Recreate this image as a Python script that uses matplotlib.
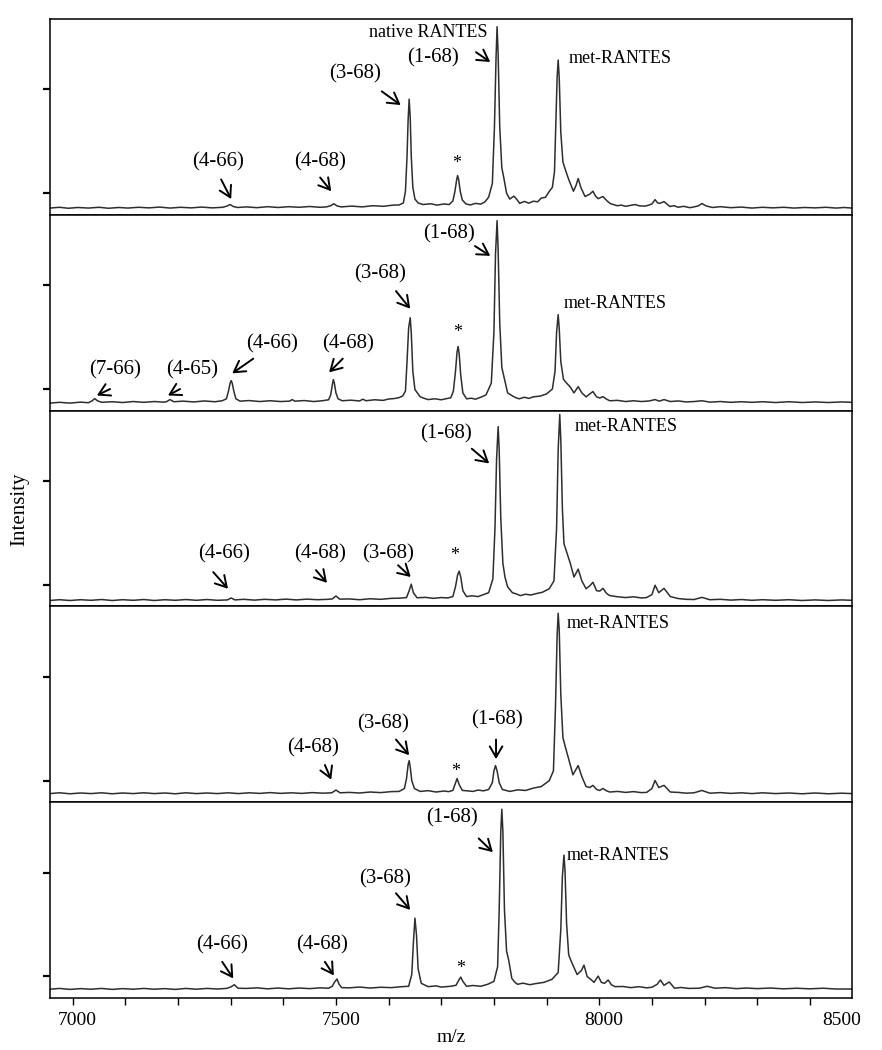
import matplotlib
matplotlib.use('Agg')
import matplotlib.pyplot as plt
import matplotlib.transforms as mtrans
from matplotlib.ticker import MultipleLocator

plt.rcParams['font.family'] = ['Liberation Serif', 'DejaVu Serif']

# traced spectra: m/z and relative intensity (percent of panel height)
mz_a = [6957, 6975, 6992, 7010, 7030, 7050, 7068, 7088, 7105, 7125, 7145, 7165, 7185, 7205, 7225,
        7245, 7265, 7285, 7293, 7299, 7305, 7313, 7330, 7350, 7370, 7390, 7410, 7430, 7450, 7470,
        7482, 7490, 7496, 7502, 7510, 7530, 7550, 7570, 7590, 7608, 7620, 7628, 7632, 7635, 7637,
        7639, 7641, 7643, 7646, 7650, 7656, 7665, 7680, 7692, 7705, 7715, 7722, 7726, 7729, 7731,
        7733, 7736, 7740, 7747, 7755, 7765, 7775, 7783, 7790, 7797, 7801, 7804, 7806, 7808, 7811,
        7815, 7819, 7824, 7830, 7838, 7843, 7849, 7858, 7866, 7875, 7883, 7890, 7898, 7904, 7911,
        7915, 7918, 7920, 7922, 7924, 7927, 7931, 7935, 7942, 7951, 7956, 7960, 7965, 7973, 7982,
        7988, 7993, 7998, 8007, 8015, 8021, 8034, 8042, 8050, 8060, 8068, 8077, 8087, 8094, 8100,
        8106, 8111, 8115, 8123, 8134, 8142, 8150, 8160, 8172, 8180, 8188, 8195, 8203, 8215, 8230,
        8250, 8270, 8290, 8310, 8330, 8350, 8370, 8390, 8410, 8430, 8450, 8465, 8480]
int_a = [3.4, 3.8, 3.3, 3.7, 3.4, 3.8, 3.3, 3.7, 3.4, 3.8, 3.5, 3.9, 3.4, 3.8, 3.5,
         3.9, 3.5, 3.8, 4.4, 5.2, 4.2, 3.7, 4.0, 3.6, 4.1, 3.7, 4.1, 3.8, 4.2, 3.8,
         4.0, 4.6, 5.6, 4.5, 4.0, 4.4, 4.0, 4.6, 4.3, 4.9, 5.0, 6.0, 12, 30, 48,
         59, 50, 30, 14, 8, 6, 5.2, 5.6, 4.9, 5.5, 5.2, 7, 12, 17.5, 20,
         18, 12, 7.5, 5.5, 5.0, 5.8, 5.4, 6.6, 9, 16, 45, 80, 96, 82, 45,
         24, 18.5, 11, 8, 9.5, 8, 5.8, 6.8, 5.9, 6.9, 6.6, 8.5, 8.9, 11.5, 14,
         22, 50, 70, 79, 70, 42, 27, 23.5, 18, 12, 15, 18.5, 14, 9.3, 10.5,
         12, 9.5, 8.2, 9.3, 7, 5.7, 4.6, 4.9, 4.3, 4.8, 5.2, 4.5, 4.4, 4.9, 5.5,
         7.7, 6.0, 5.8, 6.7, 4.2, 4.6, 3.8, 4.3, 3.6, 4.0, 4.5, 5.7, 4.5, 3.7, 4.1,
         3.6, 3.9, 3.4, 3.8, 3.5, 3.8, 3.4, 3.7, 3.5, 3.8, 3.4, 3.7, 3.4]

mz_b = [6957, 6975, 6995, 7015, 7030, 7037, 7042, 7047, 7055, 7075, 7095, 7115, 7135, 7155, 7172,
        7178, 7185, 7192, 7210, 7230, 7250, 7270, 7284, 7292, 7296, 7299, 7301, 7303, 7306, 7310,
        7318, 7335, 7355, 7375, 7395, 7412, 7417, 7422, 7440, 7458, 7474, 7486, 7490, 7493, 7495,
        7497, 7500, 7504, 7512, 7528, 7545, 7551, 7557, 7573, 7590, 7600, 7610, 7620, 7627, 7632,
        7635, 7638, 7641, 7643, 7646, 7650, 7660, 7668, 7675, 7688, 7700, 7710, 7718, 7723, 7727,
        7730, 7732, 7734, 7737, 7741, 7748, 7757, 7765, 7775, 7785, 7795, 7800, 7803, 7806, 7808,
        7811, 7815, 7821, 7826, 7835, 7842, 7848, 7858, 7866, 7875, 7888, 7900, 7911, 7916, 7919,
        7922, 7924, 7927, 7932, 7938, 7945, 7952, 7960, 7967, 7975, 7982, 7988, 7995, 8001, 8007,
        8014, 8020, 8035, 8050, 8065, 8080, 8095, 8106, 8114, 8123, 8135, 8150, 8165, 8180, 8195,
        8210, 8230, 8250, 8270, 8290, 8310, 8335, 8360, 8385, 8410, 8435, 8460, 8480]
int_b = [3.8, 4.2, 3.8, 4.3, 4.0, 5.0, 6.1, 5.0, 4.2, 4.5, 4.1, 4.6, 4.2, 4.6, 4.3,
         4.5, 5.6, 4.5, 4.8, 4.4, 4.9, 4.5, 5.0, 6, 10, 14, 15.3, 14, 10, 6,
         4.8, 5.1, 4.6, 5.0, 4.6, 4.8, 5.6, 4.8, 5.1, 4.6, 5.0, 5.5, 8, 13, 15.8,
         14, 9, 6, 5, 5.3, 4.9, 5.8, 5, 5.5, 5.2, 5.9, 6.1, 6.6, 7.5, 10,
         25, 42, 47.4, 40, 20, 10.7, 7, 6.2, 5.6, 6.0, 5.5, 6.1, 6.5, 10, 20,
         30, 32.7, 29, 18, 9, 6, 6.3, 5.8, 6.8, 8, 14, 40, 80, 97, 82,
         45, 22, 14.8, 9, 7.5, 6.5, 6, 6.8, 6.2, 7.0, 7.4, 8.5, 11, 20, 40,
         49, 42, 25, 16, 14, 12, 9, 12.2, 9, 7, 8.5, 9.7, 7, 6.4, 7.1,
         5.8, 5, 5.2, 4.6, 5.0, 4.6, 4.9, 5.6, 4.8, 5.6, 4.6, 4.9, 4.4, 4.6, 5.0,
         4.3, 4.6, 4.2, 4.5, 4.2, 4.5, 4.1, 4.5, 4.1, 4.4, 4.1, 4.4, 4.2]

mz_c = [6957, 6975, 6995, 7015, 7035, 7055, 7075, 7095, 7115, 7135, 7155, 7175, 7195, 7215, 7235,
        7255, 7275, 7294, 7301, 7308, 7325, 7345, 7365, 7385, 7405, 7425, 7445, 7465, 7485, 7493,
        7500, 7507, 7525, 7545, 7565, 7585, 7605, 7622, 7634, 7639, 7643, 7647, 7654, 7670, 7685,
        7700, 7712, 7722, 7727, 7731, 7734, 7737, 7741, 7748, 7758, 7770, 7780, 7790, 7798, 7802,
        7805, 7808, 7810, 7813, 7817, 7821, 7826, 7835, 7843, 7850, 7860, 7870, 7880, 7892, 7905,
        7914, 7919, 7922, 7925, 7927, 7930, 7933, 7937, 7945, 7952, 7960, 7967, 7975, 7982, 7988,
        7995, 8001, 8007, 8014, 8020, 8035, 8050, 8065, 8080, 8090, 8100, 8106, 8113, 8123, 8135,
        8150, 8165, 8180, 8195, 8210, 8230, 8250, 8270, 8290, 8310, 8335, 8360, 8385, 8410, 8435,
        8460, 8480]
int_c = [3.0, 3.4, 3.0, 3.4, 3.1, 3.5, 3.0, 3.4, 3.1, 3.5, 3.0, 3.4, 3.1, 3.5, 3.1,
         3.5, 3.1, 3.3, 4.3, 3.3, 3.6, 3.2, 3.6, 3.3, 3.7, 3.3, 3.7, 3.4, 3.6, 3.8,
         5.3, 3.7, 3.8, 3.4, 3.9, 3.6, 4.1, 4.2, 4.5, 8, 11.3, 7, 4.4, 4.6, 4.1,
         4.5, 4.3, 5, 10, 16, 18, 15, 8, 5, 5.4, 5, 6, 7, 14, 40,
         75, 91.8, 80, 45, 22, 14.9, 10, 7, 6.3, 5.5, 6.2, 5.8, 6.5, 7.2, 9,
         13, 40, 80, 98, 85, 50, 32, 28.7, 22, 15, 19, 13, 9, 10.5, 12.3,
         8, 7.8, 9.2, 6.6, 5.5, 4.9, 4.5, 4.9, 4.3, 4.5, 6, 10.8, 7, 9.2, 5,
         4.0, 3.6, 3.5, 4.6, 3.4, 3.6, 3.2, 3.5, 3.1, 3.4, 3.1, 3.4, 3.0, 3.3, 3.0,
         3.3, 3.1]

mz_d = [6957, 6975, 6995, 7015, 7035, 7055, 7075, 7095, 7115, 7135, 7155, 7175, 7195, 7215, 7235,
        7255, 7275, 7295, 7315, 7335, 7355, 7375, 7395, 7415, 7435, 7455, 7475, 7492, 7500, 7508,
        7525, 7545, 7565, 7585, 7605, 7620, 7630, 7634, 7637, 7639, 7641, 7644, 7649, 7660, 7675,
        7690, 7705, 7714, 7722, 7726, 7730, 7734, 7740, 7750, 7760, 7770, 7780, 7790, 7797, 7800,
        7803, 7806, 7810, 7816, 7823, 7830, 7845, 7860, 7875, 7890, 7905, 7913, 7917, 7920, 7922,
        7924, 7927, 7931, 7935, 7942, 7950, 7960, 7967, 7975, 7982, 7988, 7995, 8001, 8007, 8014,
        8020, 8035, 8050, 8065, 8080, 8090, 8100, 8106, 8113, 8123, 8135, 8150, 8165, 8180, 8195,
        8210, 8230, 8250, 8270, 8290, 8310, 8335, 8360, 8385, 8410, 8435, 8460, 8480]
int_d = [4.4, 4.8, 4.3, 4.7, 4.4, 4.8, 4.3, 4.7, 4.4, 4.8, 4.4, 4.7, 4.3, 4.8, 4.4,
         4.7, 4.4, 4.8, 4.4, 4.8, 4.5, 4.9, 4.5, 4.8, 4.5, 4.9, 4.6, 4.8, 6.2, 4.8,
         5.0, 4.7, 5.2, 4.9, 5.4, 5.5, 7, 12, 19, 21.2, 18, 11, 7, 5.5, 5.9,
         5.2, 5.7, 5.4, 6, 9, 12.1, 9, 6, 5.8, 5.5, 6.2, 5.8, 6.5, 10, 16,
         18.7, 16, 10, 6.5, 6.0, 5.5, 6.3, 6, 7.2, 8, 11, 16, 50, 85, 96.5,
         88, 55, 33, 28.8, 22, 14, 18.7, 13, 8, 7.5, 8.6, 6.5, 6.0, 7, 5.8,
         5.2, 5.5, 5, 5.4, 4.9, 5, 7, 11.1, 7.5, 8.6, 5.2, 5.0, 4.6, 4.8, 6,
         4.6, 4.9, 4.5, 4.8, 4.4, 4.8, 4.4, 4.7, 4.3, 4.7, 4.3, 4.6, 4.4]

mz_e = [6957, 6975, 6995, 7015, 7035, 7055, 7075, 7095, 7115, 7135, 7155, 7175, 7195, 7215, 7235,
        7255, 7275, 7292, 7300, 7307, 7314, 7330, 7350, 7370, 7390, 7410, 7430, 7450, 7470, 7486,
        7493, 7497, 7502, 7506, 7511, 7525, 7545, 7565, 7585, 7605, 7625, 7638, 7644, 7647, 7650,
        7653, 7656, 7662, 7675, 7690, 7700, 7718, 7728, 7733, 7737, 7741, 7748, 7760, 7775, 7788,
        7800, 7807, 7810, 7813, 7815, 7817, 7820, 7824, 7828, 7834, 7840, 7845, 7855, 7868, 7880,
        7895, 7910, 7922, 7927, 7930, 7933, 7935, 7938, 7942, 7948, 7958, 7966, 7971, 7977, 7984,
        7990, 7998, 8004, 8010, 8017, 8023, 8030, 8045, 8060, 8075, 8090, 8100, 8110, 8116, 8123,
        8133, 8143, 8155, 8170, 8190, 8205, 8220, 8240, 8260, 8280, 8300, 8325, 8350, 8375, 8400,
        8425, 8450, 8480]
int_e = [4.5, 4.9, 4.4, 4.8, 4.5, 4.9, 4.4, 4.8, 4.5, 4.9, 4.5, 4.8, 4.4, 4.9, 4.5,
         4.9, 4.6, 4.9, 5.6, 6.8, 5.0, 4.9, 5.2, 4.7, 5.1, 4.7, 5.1, 4.8, 5.2, 5.0,
         6.0, 8, 9.7, 7, 5.3, 5.2, 5.6, 5.1, 5.5, 5.3, 5.8, 6, 12, 28, 40.8,
         32, 15, 7.5, 5.8, 6.2, 5.6, 6.0, 6.5, 9, 10.7, 8.5, 6, 6.4, 6, 7.0,
         8.5, 16, 45, 85, 96.4, 85, 45, 24, 19.4, 10, 8, 7, 7.6, 6.8, 7.4,
         8.0, 9.5, 13, 35, 62, 73, 65, 38, 22, 18, 12, 14, 16.8, 11, 9.5,
         8, 11.2, 8, 7.5, 9.2, 6.8, 5.8, 5.9, 5.3, 5.8, 5.2, 5.5, 7, 9.2, 6.5,
         8.2, 5, 5.4, 4.9, 5, 6, 5, 5.3, 4.8, 5.1, 4.8, 5.1, 4.7, 5.0, 4.7,
         5.0, 4.6, 4.6]

spectra = [(mz_a, int_a), (mz_b, int_b), (mz_c, int_c), (mz_d, int_d), (mz_e, int_e)]

# peak labels: text, text centre, arrow tail, arrow tip (m/z, intensity)
labels_a = [('(4-66)', (7276, 27), (7282, 18), (7301, 8)),
            ('(4-68)', (7470, 27), (7470, 19), (7491, 12)),
            ('(3-68)', (7536, 72), (7587, 63), (7623, 56)),
            ('(1-68)', (7685, 80), (7766, 83), (7793, 78))]
labels_b = [('(7-66)', (7080, 21), (7071, 11), (7046, 7.7)),
            ('(4-65)', (7227, 21), (7204, 11), (7181, 7.7)),
            ('(4-66)', (7379, 34), (7343, 26.5), (7303, 19)),
            ('(4-68)', (7523, 34), (7513, 26.5), (7487, 19.5)),
            ('(3-68)', (7584, 70), (7614, 61), (7641, 52)),
            ('(1-68)', (7715, 90), (7764, 84), (7793, 79))]
labels_c = [('(4-66)', (7288, 27), (7267, 17.5), (7295, 9)),
            ('(4-68)', (7470, 27), (7462, 18.5), (7483, 12)),
            ('(3-68)', (7599, 27), (7618, 21), (7642, 15)),
            ('(1-68)', (7709, 88), (7758, 80.5), (7791, 73))]
labels_d = [('(4-68)', (7457, 28), (7479, 19), (7491, 11.5)),
            ('(3-68)', (7590, 40), (7614, 32), (7639, 24)),
            ('(1-68)', (7806, 42), (7804, 32), (7804, 22))]
labels_e = [('(4-66)', (7284, 27), (7284, 18.5), (7305, 10)),
            ('(4-68)', (7473, 27), (7479, 18.5), (7496, 11.5)),
            ('(3-68)', (7593, 61), (7614, 53.5), (7641, 45)),
            ('(1-68)', (7720, 92), (7771, 81.5), (7798, 74.5))]
all_labels = [labels_a, labels_b, labels_c, labels_d, labels_e]

star_pos = [(7730, 26), (7732, 40), (7726, 26), (7728, 15.5), (7736, 15)]
met_pos = [(7942, 80), (7932, 54.5), (7953, 92), (7938, 91), (7938, 73)]  # left edge

fig, axes = plt.subplots(5, 1, sharex=True, figsize=(8.82, 10.5), dpi=100)
fig.subplots_adjust(left=0.0567, right=0.966, top=0.982, bottom=0.0495, hspace=0)

arrow_kw = dict(arrowstyle='->,head_length=0.6,head_width=0.35', lw=1.4,
                color='black', shrinkA=0, shrinkB=0, mutation_scale=13)

for i, ax in enumerate(axes):
    mz, inten = spectra[i]
    ax.plot(mz, inten, color='#2e2e2e', lw=1.1)
    ax.set_xlim(6957, 8480)
    ax.set_ylim(0, 100)
    ax.set_yticks([11, 64])
    ax.set_yticklabels([])
    ax.tick_params(axis='y', direction='out', length=5, width=1.6, left=True, right=False)
    for sp in ax.spines.values():
        sp.set_linewidth(1.1)
    if i == 0:
        ax.text(7675, 93, 'native RANTES', fontsize=13, ha='center', va='center')
    for txt, pos, tail, tip in all_labels[i]:
        ax.text(pos[0], pos[1], txt, fontsize=15, ha='center', va='center')
        ax.annotate('', xy=tip, xytext=tail, arrowprops=arrow_kw)
    ax.text(star_pos[i][0], star_pos[i][1], '*', fontsize=13, ha='center', va='center')
    ax.text(met_pos[i][0], met_pos[i][1], 'met-RANTES', fontsize=13, ha='left', va='center')
    if i < 4:
        ax.tick_params(axis='x', bottom=False, top=False)

ax = axes[-1]
ax.set_xticks([7000, 7500, 8000, 8450])
ax.set_xticklabels(['7000', '7500', '8000', '8500'])
ax.xaxis.set_minor_locator(MultipleLocator(100))
ax.tick_params(axis='x', which='both', direction='out', length=5, width=1.0, labelsize=14, pad=5)
ax.xaxis.get_major_ticks()[-1].tick1line.set_visible(False)
shift = mtrans.ScaledTranslation(0.05, 0, fig.dpi_scale_trans)
for lab in ax.get_xticklabels():
    lab.set_transform(lab.get_transform() + shift)
ax.set_xlabel('m/z', fontsize=14, labelpad=0)

fig.text(0.022, 0.515, 'Intensity', rotation=90, fontsize=15, ha='center', va='center')

fig.savefig('out.png', dpi=100)
